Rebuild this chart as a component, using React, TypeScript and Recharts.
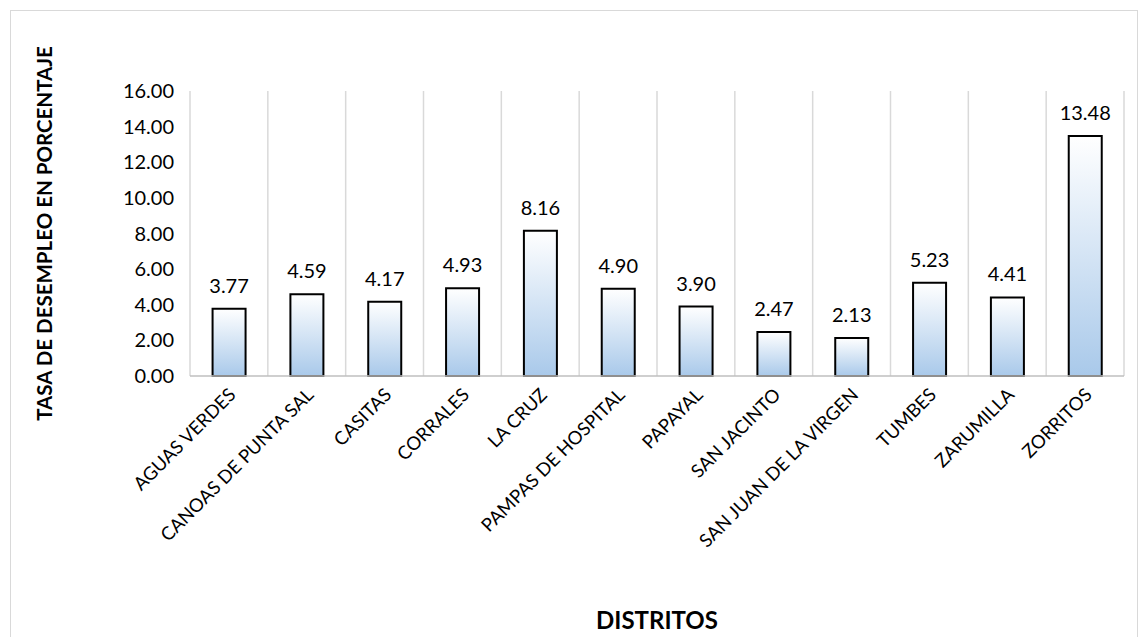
import React from "react";
import { BarChart, Bar, XAxis, YAxis, CartesianGrid, LabelList, Label } from "recharts";

const categories = ["AGUAS VERDES","CANOAS DE PUNTA SAL","CASITAS","CORRALES","LA CRUZ","PAMPAS DE HOSPITAL","PAPAYAL","SAN JACINTO","SAN JUAN DE LA VIRGEN","TUMBES","ZARUMILLA","ZORRITOS"];
const values = [3.77,4.59,4.17,4.93,8.16,4.90,3.90,2.47,2.13,5.23,4.41,13.48];
const yTicks = [0,2,4,6,8,10,12,14,16];
const data = categories.map((c, i) => ({ name: c, v: values[i] }));
const font = "Lato, 'Open Sans', sans-serif";

const XTick = (props: any) => {
  const { x, y, payload } = props;
  return (
    <text x={x + 8} y={y + 12} textAnchor="end" transform={`rotate(-45 ${x + 8} ${y + 12})`} fontSize={18.5} fill="#000" fontFamily={font}>
      {payload.value}
    </text>
  );
};

export default function App() {
  return (
    <div style={{ position: "absolute", left: 0, top: 0, width: 1147, height: 637, background: "#fff" }}>
      <div style={{ position: "absolute", left: 10, top: 10, width: 1126, height: 640, border: "1px solid #d9d9d9" }} />
      <BarChart width={1147} height={637} data={data} margin={{ top: 91, right: 23, bottom: 0, left: 0 }} barCategoryGap="29%">
        <defs>
          <linearGradient id="g" x1="0" y1="0" x2="0" y2="1">
            <stop offset="0%" stopColor="#ffffff" />
            <stop offset="100%" stopColor="#a9c9ea" />
          </linearGradient>
        </defs>
        <CartesianGrid horizontal={false} stroke="#d9d9d9" strokeWidth={1.5}
          verticalCoordinatesGenerator={({ offset }: any) => Array.from({ length: 13 }, (_, i) => offset.left + (i * offset.width) / 12)} />
        <XAxis dataKey="name" interval={0} tick={<XTick />} tickLine={false} axisLine={{ stroke: "#bfbfbf", strokeWidth: 1.5 }} height={261}>
          <Label value="DISTRITOS" position="insideBottom" offset={8} style={{ fontSize: 24, fontWeight: 700, fill: "#000", fontFamily: font }} />
        </XAxis>
        <YAxis domain={[0, 16]} ticks={yTicks} tickFormatter={(v: number) => v.toFixed(2)} axisLine={false} tickLine={false} width={190}
          tick={{ fontSize: 20, fill: "#000", fontFamily: font }} tickMargin={10}>
          <Label value="TASA DE DESEMPLEO EN PORCENTAJE" angle={-90} position="insideLeft" offset={45} dy={0}
            style={{ fontSize: 20.5, fontWeight: 700, fill: "#000", fontFamily: font, textAnchor: "middle" }} />
        </YAxis>
        <Bar dataKey="v" fill="url(#g)" stroke="#000" strokeWidth={2} isAnimationActive={false}>
          <LabelList dataKey="v" position="top" offset={16} formatter={(v: number) => v.toFixed(2)} style={{ fontSize: 20, fill: "#000", fontFamily: font }} />
        </Bar>
      </BarChart>
    </div>
  );
}
